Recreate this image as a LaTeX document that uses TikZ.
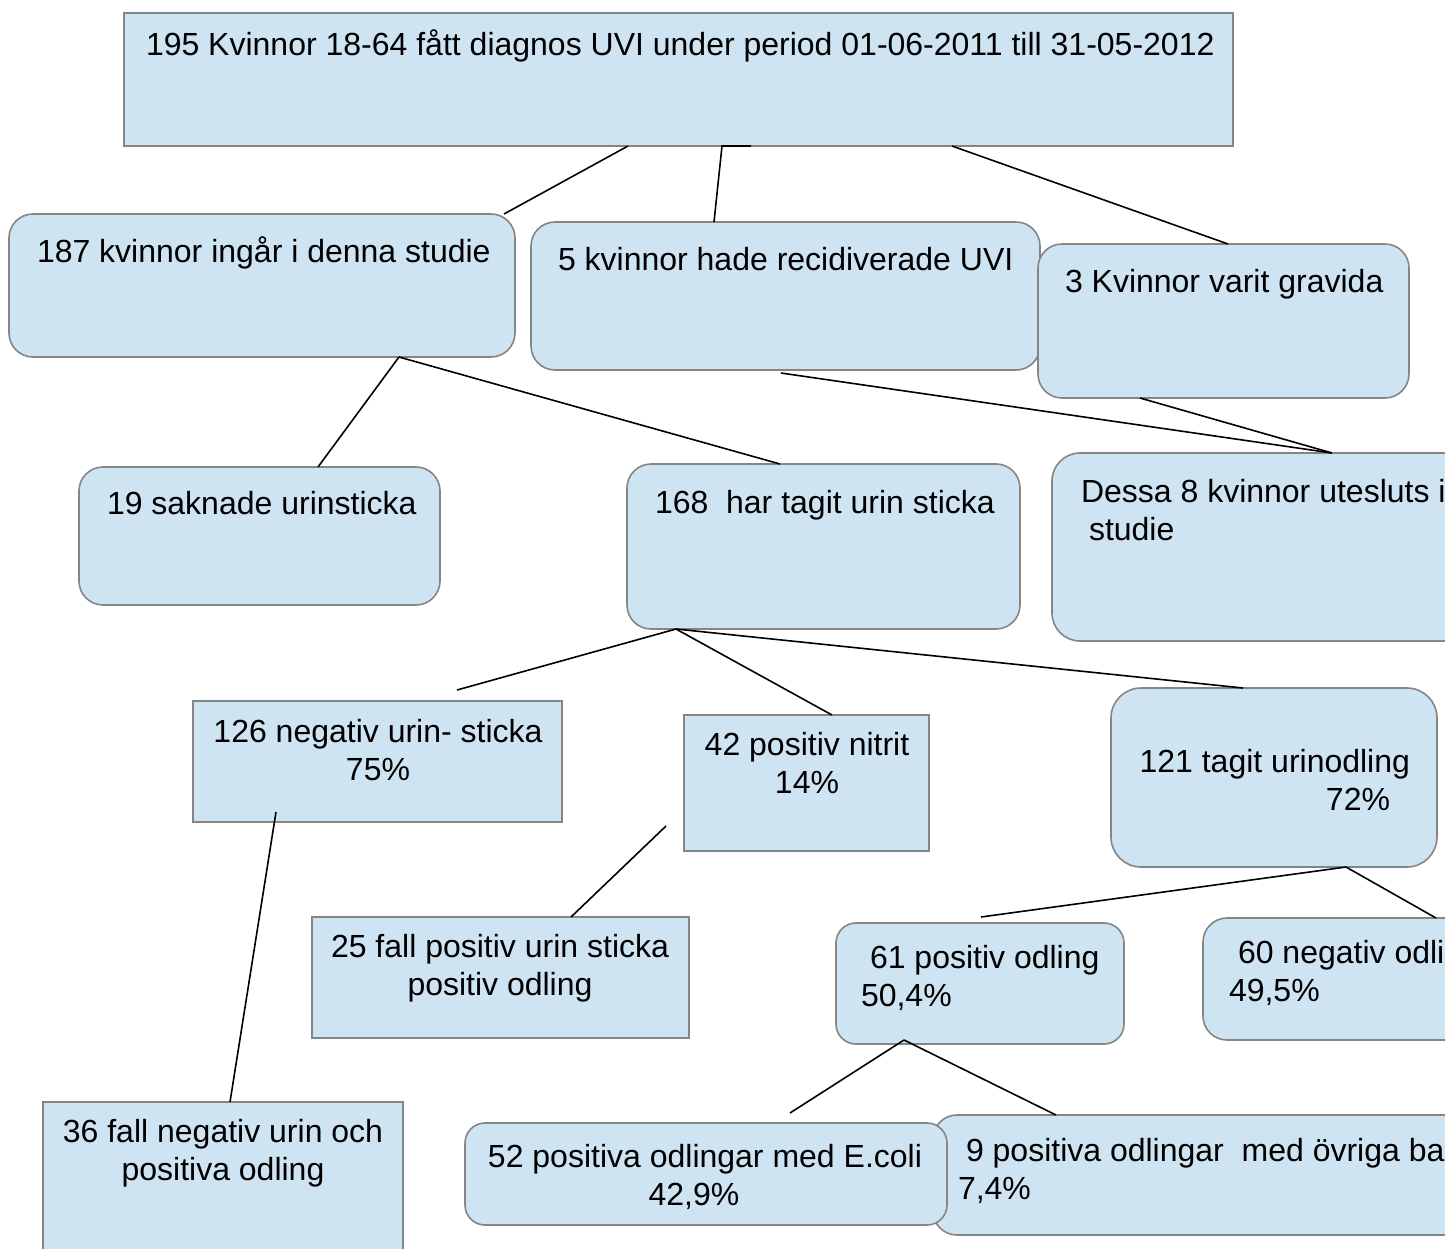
\documentclass[tikz,border=0pt]{standalone}
\usepackage{fontspec}
\setmainfont{Liberation Sans}
\definecolor{boxfill}{HTML}{CFE4F2}
\definecolor{boxline}{HTML}{858585}
\begin{document}
\begin{tikzpicture}[x=1pt,y=-1pt,
  box/.style={draw=boxline, line width=1.6pt, fill=boxfill, inner sep=0pt, outer sep=0pt, anchor=north west},
  rbox/.style={box, rounded corners=24pt},
  txt/.style={inner sep=0pt, outer sep=0pt, font=\fontsize{32}{38}\selectfont, execute at begin node={\rule{0pt}{32pt}}},
  ltxt/.style={txt, anchor=north west, align=left},
  ctxt/.style={txt, anchor=north, align=center},
  link/.style={draw=black, line width=1.6pt}]
\useasboundingbox (0,0) rectangle (1445,1248);
\clip (0,0) rectangle (1445,1248);
\fill[white] (0,0) rectangle (1445,1248);

% boxes
\node[box, minimum width=1109pt, minimum height=133pt] (top) at (124,13) {};
\node[rbox, minimum width=506pt, minimum height=143pt] (b187) at (9,214) {};
\node[rbox, minimum width=509pt, minimum height=148pt] (b5) at (531,222) {};
\node[rbox, minimum width=371pt, minimum height=154pt] (b3) at (1038,244) {};
\node[rbox, minimum width=361pt, minimum height=138pt] (b19) at (79,467) {};
\node[rbox, minimum width=393pt, minimum height=165pt] (b168) at (627,464) {};
\node[rbox, rounded corners=28pt, minimum width=448pt, minimum height=188pt] (bd) at (1052,453) {};
\node[box, minimum width=369pt, minimum height=121pt] (b126) at (193,701) {};
\node[box, minimum width=245pt, minimum height=136pt] (b42) at (684,715) {};
\node[rbox, rounded corners=30pt, minimum width=326pt, minimum height=179pt] (b121) at (1111,688) {};
\node[box, minimum width=377pt, minimum height=121pt] (b25) at (312,917) {};
\node[rbox, rounded corners=20pt, minimum width=288pt, minimum height=121pt] (b61) at (836,923) {};
\node[rbox, minimum width=297pt, minimum height=122pt] (b60) at (1203,918) {};
\node[box, minimum width=360pt, minimum height=200pt] (b36) at (43,1102) {};
\node[rbox, minimum width=567pt, minimum height=120pt] (b9) at (933,1115) {};
\node[rbox, rounded corners=20pt, minimum width=482pt, minimum height=102pt] (b52) at (465,1123) {};

% texts
\node[ltxt] (t1) at (146,23.5) {195 Kvinnor 18-64 fått diagnos UVI under period 01-06-2011 till 31-05-2012};
\node[ltxt] (t187) at (37,230.5) {187 kvinnor ingår i denna studie};
\node[ltxt] (t5) at (558,238.5) {5 kvinnor hade recidiverade UVI};
\node[ltxt] (t3) at (1065,260.5) {3 Kvinnor varit gravida};
\node[ltxt] (t19) at (107,482.5) {19 saknade urinsticka};
\node[ltxt] (t168) at (655,481.5) {168\ \ har tagit urin sticka};
\node[ltxt] (td) at (1081,479.5) {Dessa 8 kvinnor utesluts i\\\hspace*{8pt}studie};
\node[ctxt] (t126) at (378,719.5) {126 negativ urin- sticka\\75\%};
\node[ctxt] (t42) at (807,732.5) {42 positiv nitrit\\14\%};
\node[txt, anchor=north east, align=right] (t121) at (1410,749.5) {121 tagit urinodling\\72\%\rule{20pt}{0pt}};
\node[ctxt] (t25) at (500,934.5) {25 fall positiv urin sticka\\positiv odling};
\node[ltxt] (t61) at (861,945.5) {\hspace*{9pt}61 positiv odling\\50,4\%};
\node[ltxt] (t60) at (1229,940.5) {\hspace*{9pt}60 negativ odli\\49,5\%};
\node[ctxt] (t36) at (223,1119.5) {36 fall negativ urin och\\positiva odling};
\node[ltxt] (t9) at (958,1138.5) {\hspace*{8pt}9 positiva odlingar\ \ med övriga ba\\7,4\%};
\node[ctxt] (t52) at (705,1144.5) {52 positiva odlingar med E.coli\\42,9\%\rule{22pt}{0pt}};

% free ends
\coordinate (p5) at (781,373);
\coordinate (p8) at (457,690);
\coordinate (p11) at (276,812);
\coordinate (p12) at (666,826);
\coordinate (p13) at (981,917);
\coordinate (p61) at (904,1040);
\coordinate (p15) at (790,1113);

% connectors
\draw[link] (628,0 |- top.south) -- (504,0 |- b187.north);
\draw[link] (751,0 |- top.south) -- (722,0 |- top.south) -- (714,0 |- b5.north);
\draw[link] (952,0 |- top.south) -- (1228,0 |- b3.north);
\draw[link] (399,0 |- b187.south) -- (318,0 |- b19.north);
\draw[link] (399,0 |- b187.south) -- (780,0 |- b168.north);
\draw[link] (p5) -- (1332,0 |- bd.north);
\draw[link] (1140,0 |- b3.south) -- (1332,0 |- bd.north);
\draw[link] (676,0 |- b168.south) -- (p8);
\draw[link] (676,0 |- b168.south) -- (832,0 |- b42.north);
\draw[link] (676,0 |- b168.south) -- (1243,0 |- b121.north);
\draw[link] (p11) -- (230,0 |- b36.north);
\draw[link] (p12) -- (571,0 |- b25.north);
\draw[link] (1346,0 |- b121.south) -- (p13);
\draw[link] (1346,0 |- b121.south) -- (1436,0 |- b60.north);
\draw[link] (p61) -- (p15);
\draw[link] (p61) -- (1056,0 |- b9.north);
\end{tikzpicture}
\end{document}
